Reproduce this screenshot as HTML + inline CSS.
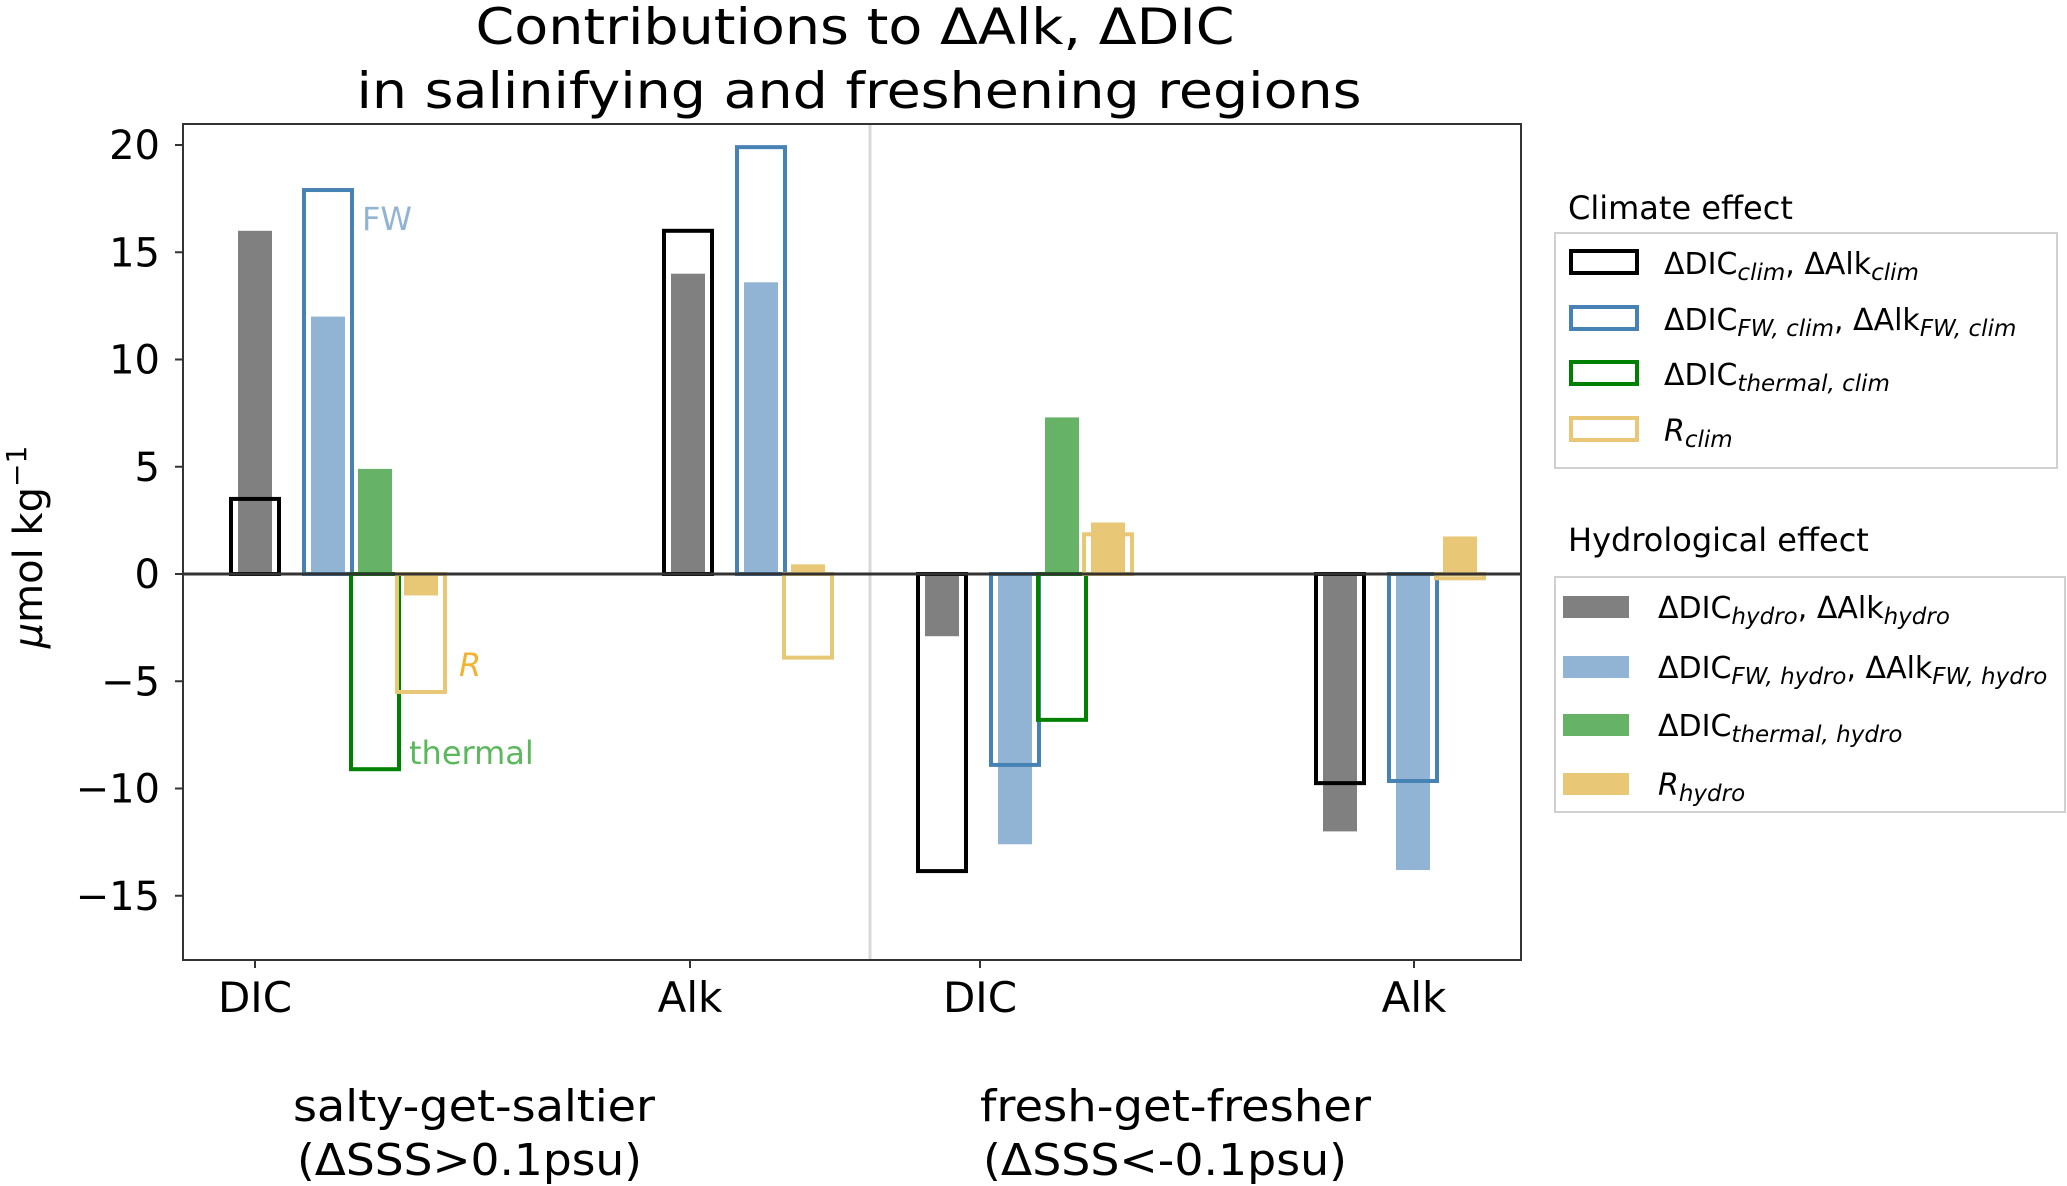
<!DOCTYPE html>
<html><head><meta charset="utf-8"><style>
html,body{margin:0;padding:0;background:#fff;}
svg{display:block;font-family:"DejaVu Sans","Liberation Sans",sans-serif;}
</style></head><body>
<svg id="chart" width="2067" height="1186" viewBox="0 0 2067 1186">
<text x="855" y="44" font-size="50" text-anchor="middle" textLength="759" lengthAdjust="spacingAndGlyphs">Contributions to ΔAlk, ΔDIC</text>
<text x="859" y="108" font-size="50" text-anchor="middle" textLength="1005" lengthAdjust="spacingAndGlyphs">in salinifying and freshening regions</text>
<rect x="183" y="124" width="1338" height="836" fill="#fff" stroke="#333" stroke-width="2"/>
<line x1="870" y1="125" x2="870" y2="959" stroke="#d9d9d9" stroke-width="3"/>
<g id="bars"></g>
<line id="zeroline" x1="183" x2="1521" stroke="#333" stroke-width="3"/>
<g id="yaxis"></g>
<g id="xaxis"></g>
<text x="362" y="230" font-size="32" fill="#92b4d4">FW</text>
<text x="459" y="676" font-size="32" font-style="italic" fill="#f0b432">R</text>
<text x="409" y="764" font-size="32" fill="#5cb85c">thermal</text>
<text transform="translate(42,547) rotate(-90)" font-size="40" text-anchor="middle"><tspan font-style="italic">μ</tspan>mol kg<tspan dy="-16" font-size="28">−1</tspan></text>
<text x="293" y="1121" font-size="44" textLength="362" lengthAdjust="spacingAndGlyphs">salty-get-saltier</text>
<text x="297" y="1175" font-size="44" textLength="345" lengthAdjust="spacingAndGlyphs">(ΔSSS&gt;0.1psu)</text>
<text x="980" y="1121" font-size="44" textLength="391" lengthAdjust="spacingAndGlyphs">fresh-get-fresher</text>
<text x="983" y="1175" font-size="44" textLength="364" lengthAdjust="spacingAndGlyphs">(ΔSSS&lt;-0.1psu)</text>

<g>
<text x="1568" y="219" font-size="32">Climate effect</text>
<rect x="1555" y="233" width="502" height="235" fill="#fff" stroke="#d0d0d0" stroke-width="2"/>
<rect x="1571" y="251" width="66" height="22" fill="none" stroke="#000" stroke-width="4"/>
<text x="1664" y="274" font-size="30">ΔDIC<tspan font-size="23" font-style="italic" dy="6">clim</tspan><tspan dy="-6">, ΔAlk</tspan><tspan font-size="23" font-style="italic" dy="6">clim</tspan></text>
<rect x="1571" y="307" width="66" height="22" fill="none" stroke="#4682b4" stroke-width="4"/>
<text x="1664" y="330" font-size="30">ΔDIC<tspan font-size="23" font-style="italic" dy="6">FW, clim</tspan><tspan dy="-6">, ΔAlk</tspan><tspan font-size="23" font-style="italic" dy="6">FW, clim</tspan></text>
<rect x="1571" y="362" width="66" height="22" fill="none" stroke="#008000" stroke-width="4"/>
<text x="1664" y="385" font-size="30">ΔDIC<tspan font-size="23" font-style="italic" dy="6">thermal, clim</tspan></text>
<rect x="1571" y="418" width="66" height="22" fill="none" stroke="#e8c776" stroke-width="4"/>
<text x="1664" y="441" font-size="30"><tspan font-style="italic">R</tspan><tspan font-size="23" font-style="italic" dy="6">clim</tspan></text>
</g>
<g>
<text x="1568" y="551" font-size="32">Hydrological effect</text>
<rect x="1555" y="577" width="510" height="235" fill="#fff" stroke="#d0d0d0" stroke-width="2"/>
<rect x="1563" y="596" width="66" height="22" fill="#808080"/>
<text x="1658" y="618" font-size="30">ΔDIC<tspan font-size="23" font-style="italic" dy="6">hydro</tspan><tspan dy="-6">, ΔAlk</tspan><tspan font-size="23" font-style="italic" dy="6">hydro</tspan></text>
<rect x="1563" y="656" width="66" height="22" fill="#92b4d4"/>
<text x="1658" y="678" font-size="30">ΔDIC<tspan font-size="23" font-style="italic" dy="6">FW, hydro</tspan><tspan dy="-6">, ΔAlk</tspan><tspan font-size="23" font-style="italic" dy="6">FW, hydro</tspan></text>
<rect x="1563" y="714" width="66" height="22" fill="#66b266"/>
<text x="1658" y="736" font-size="30">ΔDIC<tspan font-size="23" font-style="italic" dy="6">thermal, hydro</tspan></text>
<rect x="1563" y="773" width="66" height="22" fill="#e8c776"/>
<text x="1658" y="795" font-size="30"><tspan font-style="italic">R</tspan><tspan font-size="23" font-style="italic" dy="6">hydro</tspan></text>
</g>
</svg>
<script>
const categories = ["DIC", "Alk", "DIC", "Alk"];
const seriesNames = ["total", "fw", "thermal", "r"];
const climTotal   = [3.5, 16.0, -13.85, -9.75];
const climFW      = [17.9, 19.9, -8.9, -9.65];
const climThermal = [-9.1, null, -6.8, null];
const climR       = [-5.5, -3.9, 1.85, -0.2];
const hydroTotal   = [16.0, 14.0, -2.9, -12.0];
const hydroFW      = [12.0, 13.6, -12.6, -13.8];
const hydroThermal = [4.9, null, 7.3, null];
const hydroR       = [-1.0, 0.45, 2.4, 1.75];
const yTicks = [20, 15, 10, 5, 0, -5, -10, -15];
const yTickLabels = ["20", "15", "10", "5", "0", "−5", "−10", "−15"];

const NS = "http://www.w3.org/2000/svg";
const y0px = 574, unit = 21.45;
function yScale(v){ return y0px - v * unit; }
const groupX = [255, 688, 942, 1340];
function xScale(gi, slot){ return groupX[gi] + [0, 73, 120, 166][slot]; }
const zl = document.getElementById('zeroline');
zl.setAttribute('y1', yScale(0)); zl.setAttribute('y2', yScale(0));

const bars = document.getElementById('bars');
function mk(tag, attrs, parent){
  const e = document.createElementNS(NS, tag);
  for (const k in attrs) e.setAttribute(k, attrs[k]);
  parent.appendChild(e); return e;
}
const climSeries = [climTotal, climFW, climThermal, climR];
const hydroSeries = [hydroTotal, hydroFW, hydroThermal, hydroR];
const climColors = ["#000000", "#4682b4", "#008000", "#e8c776"];
const hydroColors = ["#808080", "#92b4d4", "#66b266", "#e8c776"];
for (let gi = 0; gi < categories.length; gi++){
  let slot = 0;
  for (let s = 0; s < 4; s++){
    const hv = hydroSeries[s][gi], cv = climSeries[s][gi];
    if (hv === null && cv === null) continue;
    const cx = xScale(gi, slot); slot++;
    if (hv !== null){
      const r = mk('rect', {x: cx - 17, width: 34, y: Math.min(yScale(hv), yScale(0)), height: Math.abs(yScale(hv) - yScale(0)), fill: hydroColors[s]}, bars);
      
      
    }
    if (cv !== null){
      const r = mk('rect', {x: cx - 24, width: 48, y: Math.min(yScale(cv), yScale(0)), height: Math.abs(yScale(cv) - yScale(0)), fill: 'none', stroke: climColors[s], 'stroke-width': 4}, bars);
      
      
    }
  }
}
const ya = document.getElementById('yaxis');
yTicks.forEach((t, i) => {
  const l = mk('line', {x1: 175, x2: 183, y1: yScale(t), y2: yScale(t), stroke: '#333', 'stroke-width': 2}, ya);
  
  
  const tx = mk('text', {x: 160, y: yScale(t) + 14, 'font-size': 40, 'text-anchor': 'end'}, ya);
  tx.textContent = yTickLabels[i];
  
  
});
const xa = document.getElementById('xaxis');
categories.forEach((c, i) => {
  const x = [255, 690, 980, 1414][i];
  const l = mk('line', {x1: x, x2: x, y1: 960, y2: 968, stroke: '#333', 'stroke-width': 2}, xa);
  
  
  const tx = mk('text', {x: x, y: 1012, 'font-size': 42, 'text-anchor': 'middle'}, xa);
  tx.textContent = c;
  
  
});
</script>
</body></html>
